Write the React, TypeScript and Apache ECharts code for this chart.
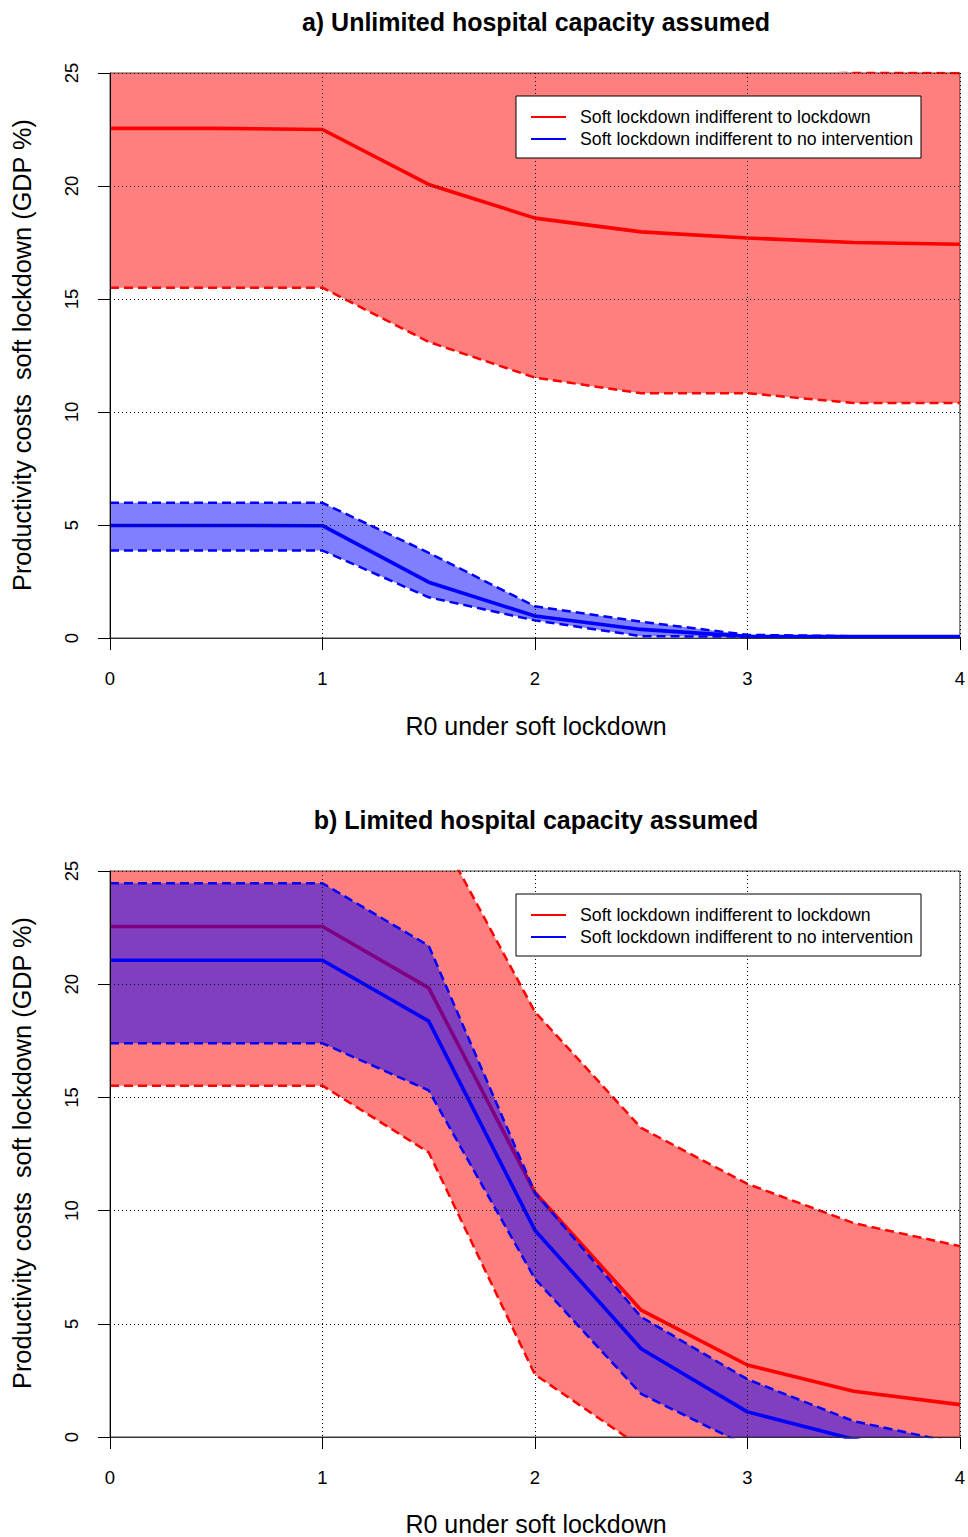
import React, { useEffect, useRef } from "react";
import * as echarts from "echarts";

// R0 under soft lockdown (data points every 0.5, ticks at the integers)
const xs = ["0", "0.5", "1", "1.5", "2", "2.5", "3", "3.5", "4"];
const xTickLabels = ["0", "1", "2", "3", "4"];
const yTicks = [0, 5, 10, 15, 20, 25];

// Panel a) Unlimited hospital capacity assumed
const aRedMid = [22.55, 22.55, 22.5, 20.07, 18.58, 17.97, 17.7, 17.5, 17.42];
const aRedLow = [15.5, 15.5, 15.5, 13.1, 11.52, 10.83, 10.83, 10.4, 10.4];
const aRedUp = [30, 30, 30, 28.5, 27, 26.2, 25.6, 25.05, 25.0];
const aBlueMid = [4.98, 4.98, 4.97, 2.47, 0.97, 0.38, 0.07, 0.06, 0.06];
const aBlueUp = [5.98, 5.98, 5.98, 3.77, 1.4, 0.72, 0.14, 0.08, 0.08];
const aBlueLow = [3.87, 3.87, 3.87, 1.8, 0.78, 0.08, 0.06, 0.05, 0.05];

// Panel b) Limited hospital capacity assumed
const bRedMid = [22.55, 22.55, 22.55, 19.84, 10.8, 5.6, 3.18, 2.02, 1.43];
const bRedLow = [15.52, 15.52, 15.52, 12.57, 2.76, -0.45, -2, -3, -4];
const bRedUp = [30, 30, 30, 27.5, 18.78, 13.65, 11.18, 9.45, 8.43];
const bBlueMid = [21.06, 21.06, 21.06, 18.37, 9.13, 3.9, 1.11, -0.1, -1];
const bBlueUp = [24.46, 24.46, 24.46, 21.7, 10.8, 5.3, 2.55, 0.7, -0.3];
const bBlueLow = [17.39, 17.39, 17.39, 15.31, 6.99, 1.9, -0.4, -1.5, -2.5];

const titles = ["a) Unlimited hospital capacity assumed", "b) Limited hospital capacity assumed"];
const xName = "R0 under soft lockdown";
const yName = "Productivity costs  soft lockdown (GDP %)";
const nameRed = "Soft lockdown indifferent to lockdown";
const nameBlue = "Soft lockdown indifferent to no intervention";

const FONT = "'Liberation Sans', Arial, Helvetica, sans-serif";
const RED = "#ff0000";
const BLUE = "#0000ff";

const diff = (up: number[], low: number[]) => up.map((u, i) => u - low[i]);
const isIntTick = (i: number) => xTickLabels.indexOf(xs[i]) >= 0;

function bandSeries(g: number, stack: string, up: number[], low: number[], fill: string, z: number) {
  const common = {
    type: "line",
    xAxisIndex: g,
    yAxisIndex: g,
    stack,
    stackStrategy: "all",
    symbol: "none",
    silent: true,
    lineStyle: { width: 0, opacity: 0 },
    z,
  };
  return [
    { ...common, data: low },
    { ...common, data: diff(up, low), areaStyle: { color: fill, opacity: 1 } },
  ];
}

function lineSeries(g: number, v: number[], color: string, width: number, dashed: boolean, z: number, name?: string) {
  const s: any = {
    type: "line",
    xAxisIndex: g,
    yAxisIndex: g,
    data: v,
    symbol: "none",
    silent: true,
    color,
    itemStyle: { color },
    lineStyle: { color, width, type: dashed ? [9, 5] : "solid" },
    z,
  };
  if (name) s.name = name;
  return s;
}

function panelSeries(g: number, rMid: number[], rLow: number[], rUp: number[], bMid: number[], bUp: number[], bLow: number[]) {
  return [
    ...bandSeries(g, "red" + g, rUp, rLow, "rgba(255,0,0,0.5)", 2),
    lineSeries(g, rLow, RED, 2.5, true, 2),
    lineSeries(g, rUp, RED, 2.5, true, 2),
    lineSeries(g, rMid, RED, 3.6, false, 2, nameRed),
    ...bandSeries(g, "blue" + g, bUp, bLow, "rgba(0,0,255,0.5)", 3),
    lineSeries(g, bLow, BLUE, 2.5, true, 3),
    lineSeries(g, bUp, BLUE, 2.5, true, 3),
    lineSeries(g, bMid, BLUE, 3.6, false, 3, nameBlue),
  ];
}

const grids = [
  { left: 110, top: 73, width: 852, height: 565 },
  { left: 110, top: 871, width: 852, height: 566 },
];

function xAxis(g: number) {
  return {
    type: "category",
    gridIndex: g,
    data: xs,
    boundaryGap: false,
    z: 5,
    axisLine: { show: true, lineStyle: { color: "#333", width: 1 } },
    axisTick: { show: true, length: 12, interval: (i: number) => isIntTick(i), lineStyle: { color: "#000", width: 1 } },
    axisLabel: {
      margin: 31,
      fontSize: 18.5,
      color: "#000",
      fontFamily: FONT,
      interval: (i: number) => isIntTick(i),
    },
    splitLine: {
      show: true,
      interval: (i: number) => isIntTick(i),
      lineStyle: { color: "#000", width: 1, type: [1, 3] },
    },
  };
}

function yAxis(g: number) {
  return {
    type: "value",
    gridIndex: g,
    min: yTicks[0],
    max: yTicks[yTicks.length - 1],
    interval: 5,
    z: 5,
    axisLine: { show: true, lineStyle: { color: "#000", width: 1 } },
    axisTick: { show: true, length: 12, lineStyle: { color: "#000", width: 1 } },
    axisLabel: { margin: 29, fontSize: 18.5, rotate: 90, color: "#000", fontFamily: FONT },
    splitLine: { show: true, lineStyle: { color: "#000", width: 1, type: [1, 3] } },
  };
}

function legend(top: number) {
  return {
    left: 516,
    top,
    orient: "vertical",
    z: 10,
    backgroundColor: "#fff",
    borderColor: "#000",
    borderWidth: 1,
    borderRadius: 0,
    padding: [10, 8, 8, 15],
    itemGap: 0,
    itemWidth: 35,
    itemHeight: 2,
    icon: "rect",
    selectedMode: false,
    itemStyle: { borderWidth: 0 },
    lineStyle: { width: 0 },
    textStyle: { fontSize: 17.7, lineHeight: 22, color: "#000", fontFamily: FONT, padding: [0, 0, 0, 9] },
    data: [nameRed, nameBlue],
  };
}

function txt(text: string, x: number, y: number, size: number, bold: boolean, rot = 0) {
  return {
    type: "text",
    x,
    y,
    rotation: rot,
    z: 20,
    style: {
      text,
      fill: "#000",
      fontSize: size,
      fontWeight: bold ? "bold" : "normal",
      fontFamily: FONT,
      align: "center",
      verticalAlign: "middle",
      textAlign: "center",
      textVerticalAlign: "middle",
    },
  };
}

export default function App() {
  const ref = useRef<HTMLDivElement>(null);
  useEffect(() => {
    if (!ref.current) return;
    const chart = echarts.init(ref.current, undefined, { renderer: "svg" });
    chart.setOption({
      animation: false,
      backgroundColor: "#fff",
      grid: grids.map((g) => ({ ...g, show: true, borderColor: "#444", borderWidth: 1, backgroundColor: "transparent" })),
      xAxis: [xAxis(0), xAxis(1)],
      yAxis: [yAxis(0), yAxis(1)],
      legend: [legend(96), legend(894)],
      series: [
        ...panelSeries(0, aRedMid, aRedLow, aRedUp, aBlueMid, aBlueUp, aBlueLow),
        ...panelSeries(1, bRedMid, bRedLow, bRedUp, bBlueMid, bBlueUp, bBlueLow),
      ],
      graphic: [
        txt(titles[0], 536, 22, 25, true),
        txt(titles[1], 536, 820, 25, true),
        txt(xName, 536, 726, 25, false),
        txt(xName, 536, 1524, 25, false),
        txt(yName, 22, 355, 25.3, false, Math.PI / 2),
        txt(yName, 22, 1153, 25.3, false, Math.PI / 2),
      ],
    });
    return () => chart.dispose();
  }, []);
  return (
    <div
      ref={ref}
      style={{ position: "absolute", left: 0, top: 0, width: 968, height: 1537, background: "#fff" }}
    />
  );
}
